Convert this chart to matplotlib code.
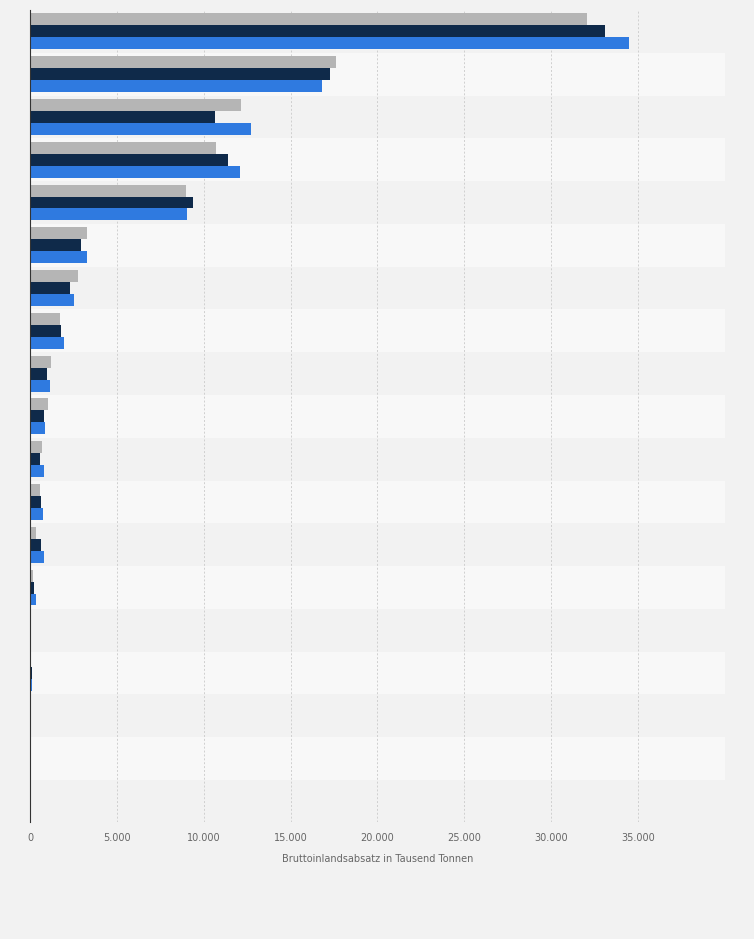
import numpy as np
import matplotlib.pyplot as plt
from matplotlib.ticker import FuncFormatter

# Werte in Tausend Tonnen, 18 Kategorien, 3 Jahre
serie_grau = [32070, 17590, 12130, 10690, 8970, 3280, 2760, 1720, 1210, 1030, 690, 570, 340, 170, 30, 30, 10, 0]
serie_navy = [33100, 17240, 10630, 11380, 9370, 2930, 2300, 1780, 980, 800, 570, 630, 630, 230, 60, 110, 60, 0]
serie_blau = [34480, 16780, 12700, 12070, 9020, 3280, 2530, 1950, 1150, 860, 800, 750, 800, 340, 60, 110, 50, 0]
xticks = [0, 5000, 10000, 15000, 20000, 25000, 30000, 35000]

W, H = 754, 939
fig = plt.figure(figsize=(W / 100, H / 100), dpi=100, facecolor="#f2f2f2")
ax = fig.add_axes([30 / W, 1 - 822 / H, 695 / W, 812 / H])
ax.set_facecolor("#f2f2f2")

n = len(serie_grau)
y = np.arange(n)
# alternierende Hintergrundstreifen
for i in range(n):
    ax.axhspan(i - 0.5, i + 0.5, color="#f2f2f2" if i % 2 == 0 else "#f8f8f8", zorder=0, lw=0)

h = 0.28
ax.barh(y - h, serie_grau, height=h, color="#b5b5b5", zorder=3)
ax.barh(y, serie_navy, height=h, color="#0f2a4a", zorder=3)
ax.barh(y + h, serie_blau, height=h, color="#2f7ae0", zorder=3)

ax.set_ylim(n - 0.5 + 42 / 42.8, -0.5)
ax.set_xlim(0, 40000)
ax.set_xticks(xticks)
ax.xaxis.set_major_formatter(FuncFormatter(lambda v, p: f"{int(v):,}".replace(",", ".")))
ax.tick_params(axis="x", length=0, labelsize=7, colors="#666666", pad=8)
ax.set_yticks([])
ax.grid(axis="x", color="#cfcfcf", linestyle=(0, (2, 2)), lw=0.7, zorder=1)
for s in ["top", "right", "bottom"]:
    ax.spines[s].set_visible(False)
ax.spines["left"].set_color("#333333")
ax.spines["left"].set_linewidth(0.8)
ax.spines["left"].set_zorder(4)
ax.set_xlabel("Bruttoinlandsabsatz in Tausend Tonnen", fontsize=7, color="#666666", labelpad=8)

fig.savefig("out.png", dpi=100, facecolor=fig.get_facecolor())
